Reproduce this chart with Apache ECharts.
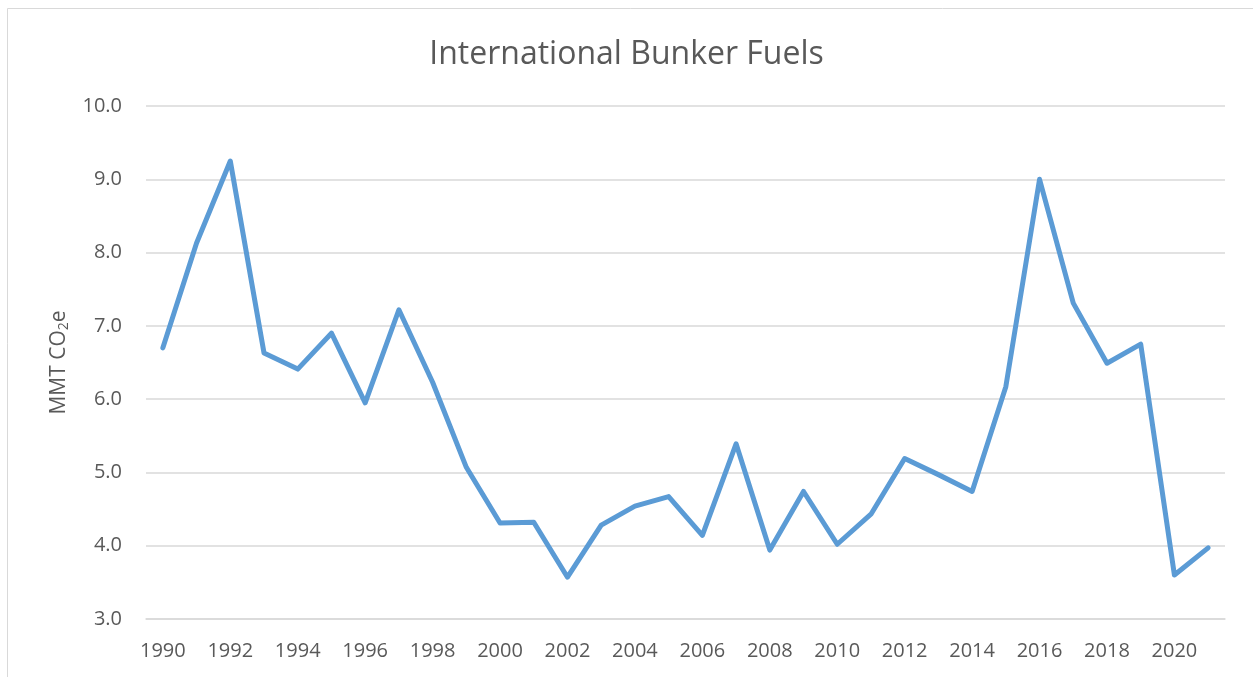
<!DOCTYPE html>
<html>
<head>
<meta charset="utf-8">
<script src="https://cdn.jsdelivr.net/npm/echarts@6/dist/echarts.min.js"></script>
<style>
  html, body { margin: 0; padding: 0; background: #fff; }
  #main { width: 1253px; height: 677px; }
</style>
</head>
<body>
<div id="main"></div>
<script>
// years on the x axis
const years = [];
for (let y = 1990; y <= 2021; y++) years.push(String(y));
// MMT CO2e
const bunkerFuels = [
  6.70, 8.13, 9.25, 6.63, 6.41, 6.90, 5.95, 7.22, 6.23, 5.07,
  4.31, 4.32, 3.57, 4.28, 4.54, 4.67, 4.14, 5.39, 3.94, 4.74,
  4.02, 4.43, 5.19, 4.97, 4.74, 6.17, 9.00, 7.31, 6.49, 6.75,
  3.60, 3.97
];
const yMin = 3, yMax = 10, yStep = 1;

const textColor = '#595959';
const font = 'Open Sans, Liberation Sans, sans-serif';

const myChart = echarts.init(document.getElementById('main'));
const option = {
  backgroundColor: '#fff',
  animation: false,
  title: {
    text: 'International Bunker Fuels',
    left: 'center',
    top: 34,
    textStyle: { color: textColor, fontSize: 32, fontWeight: 'normal', fontFamily: font }
  },
  graphic: [{
    type: 'rect',
    shape: { x: 7.5, y: 8.5, width: 1260, height: 700 },
    style: { fill: 'none', stroke: '#d9d9d9', lineWidth: 1 },
    silent: true
  }],
  grid: { left: 146, right: 28, top: 106, bottom: 58 },
  xAxis: {
    type: 'category',
    data: years,
    boundaryGap: true,
    axisLine: { lineStyle: { color: '#d9d9d9', width: 1.5 } },
    axisTick: { show: false },
    axisLabel: { interval: 1, color: textColor, fontSize: 20, fontFamily: font, margin: 22 }
  },
  yAxis: {
    type: 'value',
    min: yMin,
    max: yMax,
    interval: yStep,
    name: 'MMT CO{sub|2}e',
    nameLocation: 'middle',
    nameGap: 75,
    nameRotate: 90,
    nameTextStyle: {
      color: textColor, fontSize: 21, fontFamily: font,
      rich: { sub: { fontSize: 14, color: textColor, fontFamily: font, verticalAlign: 'bottom', padding: [9, 0, 0, 0] } }
    },
    axisLine: { show: false },
    axisTick: { show: false },
    axisLabel: { color: textColor, fontSize: 20, fontFamily: font, margin: 24, formatter: v => v.toFixed(1) },
    splitLine: { lineStyle: { color: '#d9d9d9', width: 1.5 } }
  },
  series: [{
    type: 'line',
    data: bunkerFuels,
    symbol: 'none',
    lineStyle: { color: '#5b9bd5', width: 5, cap: 'round', join: 'round' }
  }]
};
myChart.setOption(option, true);
</script>
</body>
</html>
